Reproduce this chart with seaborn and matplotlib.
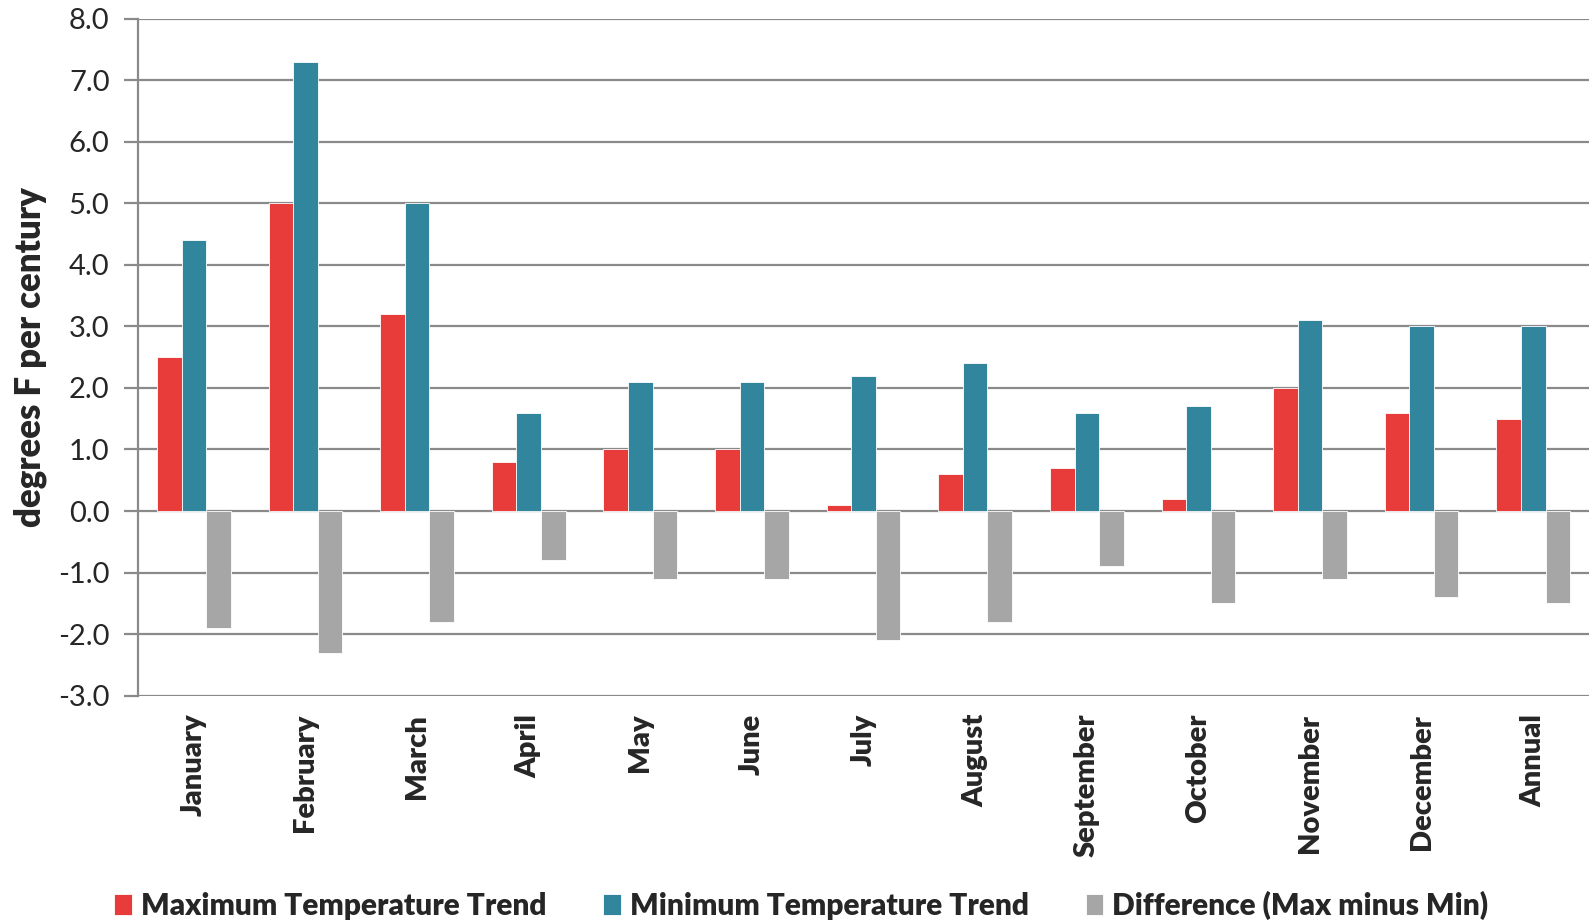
import matplotlib
matplotlib.use("Agg")
import matplotlib.pyplot as plt
import numpy as np
import pandas as pd
import seaborn as sns

MONTHS = ['January', 'February', 'March', 'April', 'May', 'June', 'July',
          'August', 'September', 'October', 'November', 'December', 'Annual']
MAX_TREND = [2.5, 5.0, 3.2, 0.8, 1.0, 1.0, 0.1, 0.6, 0.7, 0.2, 2.0, 1.6, 1.5]
MIN_TREND = [4.4, 7.3, 5.0, 1.6, 2.1, 2.1, 2.2, 2.4, 1.6, 1.7, 3.1, 3.0, 3.0]
DIFFERENCE = [-1.9, -2.3, -1.8, -0.8, -1.1, -1.1, -2.1, -1.8, -0.9, -1.5, -1.1, -1.4, -1.5]
SERIES = ['Maximum Temperature Trend', 'Minimum Temperature Trend', 'Difference (Max minus Min)']
COLORS = ['#E83C3A', '#31859C', '#A6A6A6']

sns.set_style('white')
plt.rcParams['font.family'] = ['Lato', 'DejaVu Sans']

data = pd.concat([
    pd.DataFrame({'month': MONTHS, 'series': name, 'value': vals})
    for name, vals in zip(SERIES, [MAX_TREND, MIN_TREND, DIFFERENCE])
], ignore_index=True)

fig = plt.figure(figsize=(15.94, 9.23), dpi=100)
ax = fig.add_axes([0.0866, 0.2463, 0.9103, 0.7335])

sns.barplot(data=data, x='month', y='value', hue='series', order=MONTHS, hue_order=SERIES,
            palette=COLORS, width=0.66, gap=0, ax=ax, saturation=1,
            edgecolor='white', linewidth=0.6, legend=True)

ax.set_ylim(-3.0, 8.0)
ax.set_xlim(-0.5, len(MONTHS) - 0.5)
ax.set_yticks(np.arange(-3, 9, 1))
ax.set_yticklabels([f'{v:.1f}' for v in np.arange(-3, 9, 1)], fontsize=21)
ax.yaxis.grid(True, color='#8a8a8a', linewidth=1.6)
ax.set_axisbelow(True)
for side in ['top', 'right', 'bottom']:
    ax.spines[side].set_visible(False)
ax.spines['left'].set_color('#8a8a8a')
ax.spines['left'].set_linewidth(1.6)
ax.tick_params(axis='y', length=10, width=1.6, color='#8a8a8a', pad=10.5, left=True)
ax.tick_params(axis='x', length=0, pad=13)
ax.set_xticks(range(len(MONTHS)))
ax.set_xticklabels(MONTHS, rotation=90, fontsize=21, fontweight='heavy', va='top')
ax.set_xlabel('')
ax.set_ylabel('degrees F per century', fontsize=25, fontweight='heavy', labelpad=8)

ax.legend(loc='center', bbox_to_anchor=(0.457, -0.31), ncol=3, frameon=False,
          prop={'weight': 'heavy', 'size': 21.5}, handlelength=0.6, handleheight=0.7,
          handletextpad=0.3, columnspacing=1.9)

fig.savefig('out.png', dpi=100)
